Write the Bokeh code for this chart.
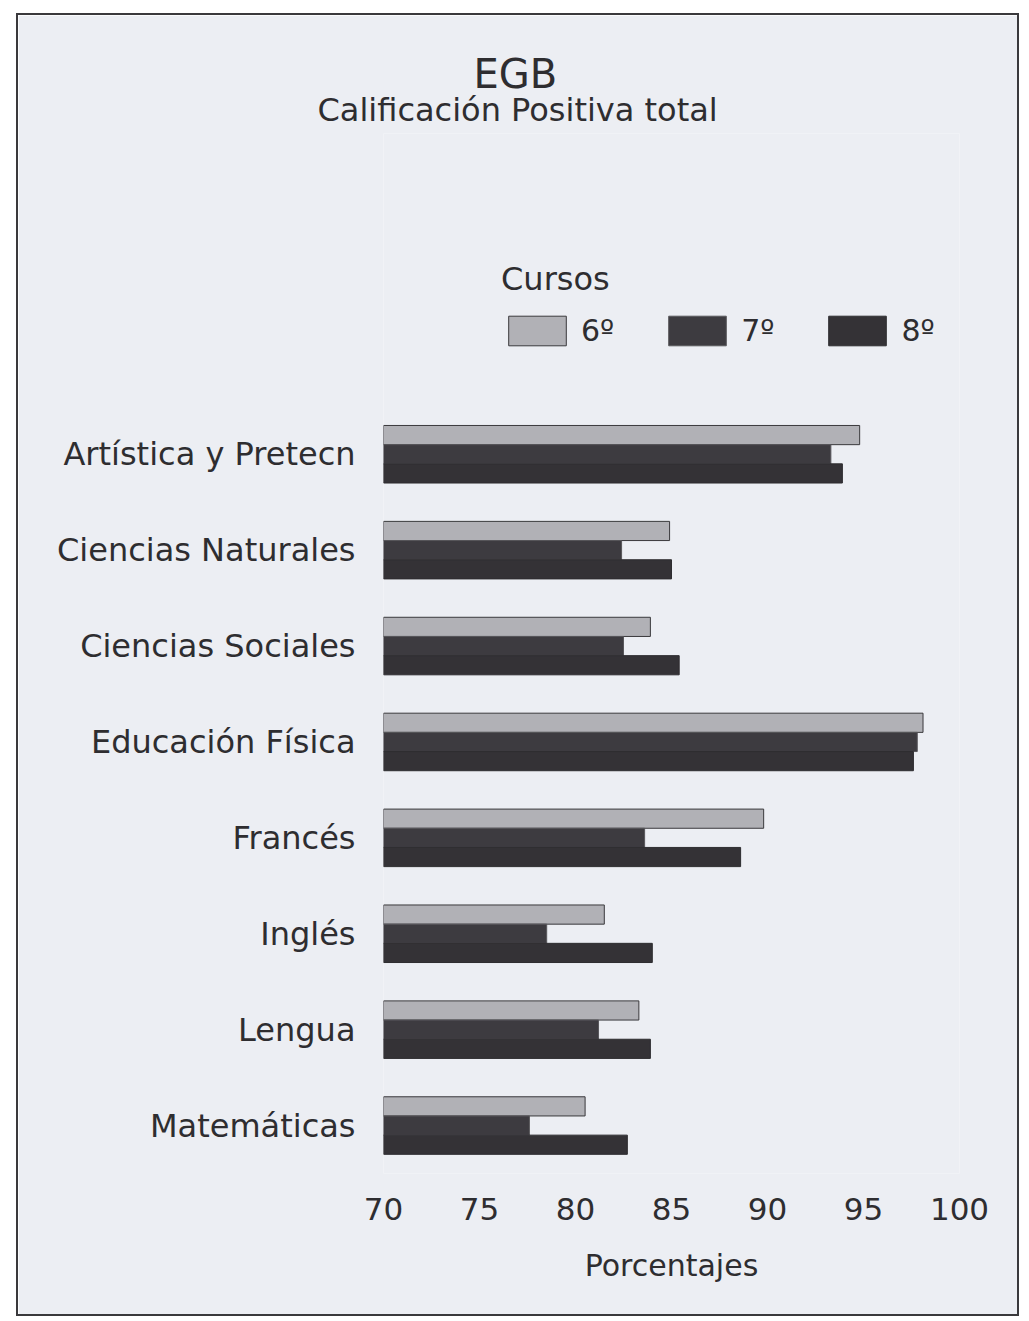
from bokeh.plotting import figure
from bokeh.models import (ColumnDataSource, Range1d, Legend, LegendItem,
                          FixedTicker, Title)
from bokeh.embed import file_html
from bokeh.resources import INLINE

# ---- data ----
categories = ["Artística y Pretecn", "Ciencias Naturales", "Ciencias Sociales",
              "Educación Física", "Francés", "Inglés", "Lengua", "Matemáticas"]
curso_6 = [94.8, 84.9, 83.9, 98.1, 89.8, 81.5, 83.3, 80.5]
curso_7 = [93.3, 82.4, 82.5, 97.8, 83.6, 78.5, 81.2, 77.6]
curso_8 = [93.9, 85.0, 85.4, 97.6, 88.6, 84.0, 83.9, 82.7]
x_ticks = [70, 75, 80, 85, 90, 95, 100]
series_labels = ["6º", "7º", "8º"]

FONT = "DejaVu Sans"
INK = "#2e2d30"
BG = "#eceef3"

# ---- layout constants (pixels) ----
W, H = 1003, 1303
FRAME_L, FRAME_R = 365, 941
FRAME_T, FRAME_B = 118, 1158
n = len(categories)
unit = 95.9                                   # pixels per category slot
y_lo = -0.5
y_hi = y_lo + (FRAME_B - FRAME_T) / unit

pos = [n - 1 - i for i in range(n)]           # top category first
src = ColumnDataSource(dict(
    cat=categories, pos=pos,
    y6=[v + 0.2 for v in pos], y7=pos, y8=[v - 0.2 for v in pos],
    c6=curso_6, c7=curso_7, c8=curso_8))

p = figure(
    x_range=Range1d(70, 100), y_range=Range1d(y_lo, y_hi),
    width=W, height=H,
    min_border_left=FRAME_L, min_border_right=W - FRAME_R,
    min_border_top=FRAME_T, min_border_bottom=H - FRAME_B,
    output_backend="svg", toolbar_location=None,
    background_fill_color=BG, border_fill_color=BG,
    outline_line_color=None,
    styles={"border": "2px solid #3a393c", "margin-left": "16px",
            "margin-top": "13px"},
)

bh = 0.2
r6 = p.hbar(y="y6", left=70, right="c6", height=bh, source=src,
            fill_color="#b1b1b6", line_color="#3a393c", line_width=1)
r7 = p.hbar(y="y7", left=70, right="c7", height=bh, source=src,
            fill_color="#3d3b40", line_color="#58575b", line_width=1)
r8 = p.hbar(y="y8", left=70, right="c8", height=bh, source=src,
            fill_color="#343236", line_color="#2e2d30", line_width=1)

# x axis
p.xaxis.ticker = FixedTicker(ticks=x_ticks)
p.xaxis.axis_line_color = None
p.xaxis.major_tick_line_color = None
p.xaxis.minor_tick_line_color = None
p.xaxis.major_label_text_font = FONT
p.xaxis.major_label_text_font_size = "31px"
p.xaxis.major_label_text_color = INK
p.xaxis.major_label_standoff = 18
p.xaxis.axis_label = "Porcentajes"
p.xaxis.axis_label_text_font = FONT
p.xaxis.axis_label_text_font_size = "30px"
p.xaxis.axis_label_text_font_style = "normal"
p.xaxis.axis_label_text_color = INK
p.xaxis.axis_label_standoff = 25

# y axis with category names
p.yaxis.ticker = FixedTicker(ticks=pos)
p.yaxis.major_label_overrides = {pp: c for pp, c in zip(pos, categories)}
p.yaxis.axis_line_color = None
p.yaxis.major_tick_line_color = None
p.yaxis.minor_tick_line_color = None
p.yaxis.major_label_text_font = FONT
p.yaxis.major_label_text_font_size = "32px"
p.yaxis.major_label_text_color = INK
p.yaxis.major_label_standoff = 22

p.xgrid.grid_line_color = None
p.ygrid.grid_line_color = None

# titles (first added sits closest to the frame)
p.add_layout(Title(text="Calificación Positiva total", align="left", offset=-66,
                   text_font=FONT, text_font_size="32px",
                   text_font_style="normal", text_color=INK), "above")
p.add_layout(Title(text="EGB", align="left", offset=90, standoff=-26,
                   text_font=FONT, text_font_size="40px",
                   text_font_style="normal", text_color=INK), "above")

# legend
legend = Legend(
    items=[LegendItem(label=series_labels[0], renderers=[r6]),
           LegendItem(label=series_labels[1], renderers=[r7]),
           LegendItem(label=series_labels[2], renderers=[r8])],
    orientation="horizontal", location=(118, 824),
    title="Cursos", title_text_font=FONT, title_text_font_size="32px",
    title_text_font_style="normal", title_text_color=INK, title_standoff=14,
    label_text_font=FONT, label_text_font_size="30px", label_text_color=INK,
    glyph_width=72, glyph_height=37, label_standoff=8, spacing=47,
    padding=0, margin=0, border_line_color=None, background_fill_alpha=0,
)
p.add_layout(legend)

open("out.html", "w").write(file_html(p, INLINE))
